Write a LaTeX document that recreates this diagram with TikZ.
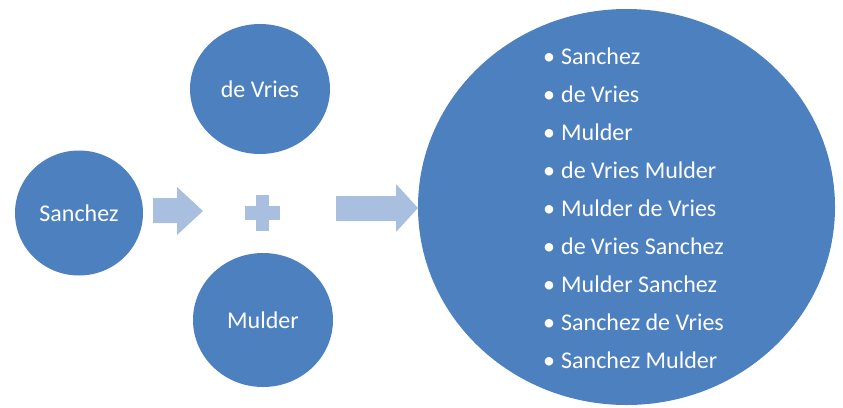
\documentclass[tikz,border=0pt]{standalone}
\usepackage{fontspec}
\setmainfont{Carlito}
\usepackage{tikz}
\usetikzlibrary{shapes.geometric}

\definecolor{circblue}{RGB}{76,128,190}
\definecolor{arrowblue}{RGB}{168,191,223}

\begin{document}
\begin{tikzpicture}[x=1pt, y=-1pt,
    blob/.style={ellipse, fill=circblue, inner sep=0pt, text=white, font=\fontsize{24}{28}\selectfont},
    item/.style={anchor=base west, inner sep=0pt, text=white, font=\fontsize{24}{28}\selectfont}]
    % Fix the page
    \useasboundingbox (0,0) rectangle (843,407);

    % Draw the three name circles
    \node[blob, minimum width=128pt, minimum height=125pt] (sanchez) at (79,213) {Sanchez};
    \node[blob, minimum width=140pt, minimum height=130pt] (devries) at (260,89) {de Vries};
    \node[blob, minimum width=140pt, minimum height=134pt] (mulder) at (263,320) {Mulder};

    % Draw the big circle
    \node[blob, minimum width=417pt, minimum height=396pt] (result) at (626.5,207) {};

    % Block arrows and plus sign
    \fill[arrowblue] (153,198) -- (177,198) -- (177,187) -- (203,211) -- (177,235)
        -- (177,223) -- (153,223) -- cycle;
    \fill[arrowblue] (336,196) -- (396,196) -- (396,184) -- (418,208) -- (396,232)
        -- (396,221) -- (336,221) -- cycle;
    \fill[arrowblue] (256,195) rectangle (269,231);
    \fill[arrowblue] (245,206) rectangle (280,220);

    % Define the names in a list
    \def\namelist{Sanchez, de Vries, Mulder, de Vries Mulder, Mulder de Vries,
        de Vries Sanchez, Mulder Sanchez, Sanchez de Vries, Sanchez Mulder}

    % Loop through each name and place it
    \foreach \name [count=\i] in \namelist {
        \node[item] (item\i) at (543, {64+38*(\i-1)}) {\textbullet\hspace{6pt}\name};
    }

\end{tikzpicture}
\end{document}
